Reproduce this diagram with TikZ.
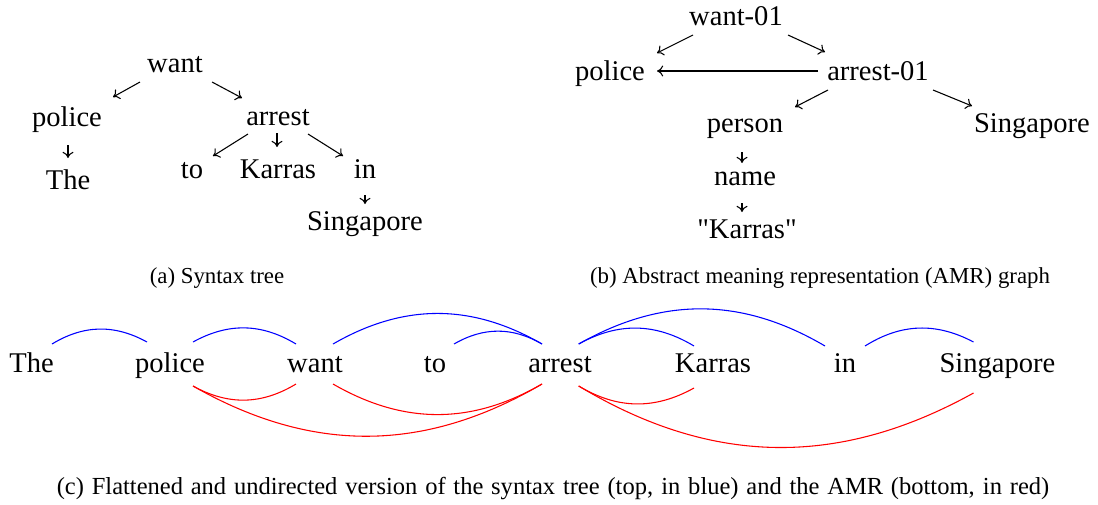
\documentclass[tikz,border=0pt]{standalone}
\usepackage{fontspec}
\setmainfont{Liberation Serif}[Ligatures=TeXOff]
\usetikzlibrary{arrows.meta}
\begin{document}
\begin{tikzpicture}[x=0.4202pt,y=-0.4202pt,
  word/.style={inner sep=0pt,anchor=base,font=\fontsize{12}{14}\selectfont},
  captext/.style={inner sep=0pt,anchor=base,font=\fontsize{9.6}{11.5}\selectfont},
  arr/.style={-{To[length=2.6pt,width=4.6pt]},line width=0.45pt},
  syn/.style={blue,line width=0.45pt,bend left=30},
  amr/.style={red,line width=0.45pt,bend right=30}]
\useasboundingbox (0,0) rectangle (1098,504);
% ---------- (a) syntax tree ----------
\node[word] (aw) at (175,72) {want};
\node[word] (ap) at (67,126) {police};
\node[word] (aa) at (278,125) {arrest};
\node[word] (aThe) at (68,189) {The};
\node[word] (ato) at (192,178) {to};
\node[word] (aK) at (278,178) {Karras};
\node[word] (ain) at (365,178) {in};
\node[word] (aS) at (365,230) {Singapore};
\draw[arr] ([shift={(-35,10)}]aw.base) -- ([shift={(46,-29)}]ap.base);
\draw[arr] ([shift={(37,10)}]aw.base) -- ([shift={(-36,-27)}]aa.base);
\draw[arr] ([shift={(1,19)}]ap.base) -- ([shift={(0,-31)}]aThe.base);
\draw[arr] ([shift={(-30,9)}]aa.base) -- ([shift={(21,-22)}]ato.base);
\draw[arr] ([shift={(-1,8)}]aa.base) -- ([shift={(-1,-31)}]aK.base);
\draw[arr] ([shift={(30,9)}]aa.base) -- ([shift={(-22,-22)}]ain.base);
\draw[arr] ([shift={(0,17)}]ain.base) -- ([shift={(0,-26)}]aS.base);
\node[captext] (capa) at (217,283) {(a) Syntax tree};
% ---------- (b) AMR graph ----------
\node[word] (bw) at (736,25) {want-01};
\node[word] (bp) at (610,80) {police};
\node[word] (ba) at (878,80) {arrest-01};
\node[word] (bpe) at (745,132) {person};
\node[word] (bS) at (1032,132) {Singapore};
\node[word] (bn) at (745,185) {name};
\node[word] (bK) at (747,238) {"Karras"};
\draw[arr] ([shift={(-43,10)}]bw.base) -- ([shift={(47,-27)}]bp.base);
\draw[arr] ([shift={(52,10)}]bw.base) -- ([shift={(-53,-28)}]ba.base);
\draw[arr] ([shift={(-60,-9)}]ba.base) -- ([shift={(47,-9)}]bp.base);
\draw[arr] ([shift={(-50,10)}]ba.base) -- ([shift={(50,-25)}]bpe.base);
\draw[arr] ([shift={(55,10)}]ba.base) -- ([shift={(-60,-26)}]bS.base);
\draw[arr] ([shift={(-3,20)}]bpe.base) -- ([shift={(-3,-22)}]bn.base);
\draw[arr] ([shift={(-3,18)}]bn.base) -- ([shift={(-5,-26)}]bK.base);
\node[captext] (capb) at (820,283) {(b) Abstract meaning representation (AMR) graph};
% ---------- (c) flattened ----------
\node[word] (cThe) at (31.5,372) {The};
\node[word] (cp) at (170,372) {police};
\node[word] (cw) at (315,372) {want};
\node[word] (cto) at (435,372) {to};
\node[word] (ca) at (560,372) {arrest};
\node[word] (cK) at (713,372) {Karras};
\node[word] (cin) at (845,372) {in};
\node[word] (cS) at (997.5,372) {Singapore};
% anchor points
\coordinate (TheTR) at ([shift={(20.5,-28)}]cThe.base);
\coordinate (pTL) at ([shift={(-23,-30)}]cp.base);
\coordinate (pTR) at ([shift={(23,-30)}]cp.base);
\coordinate (pBR) at ([shift={(23,14)}]cp.base);
\coordinate (wTL) at ([shift={(-19,-28)}]cw.base);
\coordinate (wTR) at ([shift={(18,-28)}]cw.base);
\coordinate (wBL) at ([shift={(-19,12)}]cw.base);
\coordinate (wBR) at ([shift={(18,12)}]cw.base);
\coordinate (toTR) at ([shift={(19,-28)}]cto.base);
\coordinate (aTL) at ([shift={(-18,-28)}]ca.base);
\coordinate (aTR) at ([shift={(18.7,-28)}]ca.base);
\coordinate (aBL) at ([shift={(-18,12)}]ca.base);
\coordinate (aBR) at ([shift={(18.7,14)}]ca.base);
\coordinate (KTL) at ([shift={(-19,-26)}]cK.base);
\coordinate (KBL) at ([shift={(-19,16)}]cK.base);
\coordinate (inTL) at ([shift={(-20,-26)}]cin.base);
\coordinate (inTR) at ([shift={(20,-26)}]cin.base);
\coordinate (STL) at ([shift={(-24,-30)}]cS.base);
\coordinate (SBL) at ([shift={(-24,21)}]cS.base);
% syntax (blue)
\draw[syn] (TheTR) to (pTL);
\draw[syn] (pTR) to (wTL);
\draw[syn] (wTR) to (aTL);
\draw[syn] (toTR) to (aTL);
\draw[syn] (aTR) to (KTL);
\draw[syn] (aTR) to (inTL);
\draw[syn] (inTR) to (STL);
% AMR (red)
\draw[amr] (pBR) to (wBL);
\draw[amr] (pBR) to (aBL);
\draw[amr] (wBR) to (aBL);
\draw[amr] (aBR) to (KBL);
\draw[amr] (aBR) to (SBL);
\node[captext,font=\fontsize{10.3}{12}\selectfont] (capc) at (553,494) {\makebox[417pt][s]{(c) Flattened and undirected version of the syntax tree (top, in blue) and the AMR (bottom, in red)}};
\end{tikzpicture}
\end{document}
